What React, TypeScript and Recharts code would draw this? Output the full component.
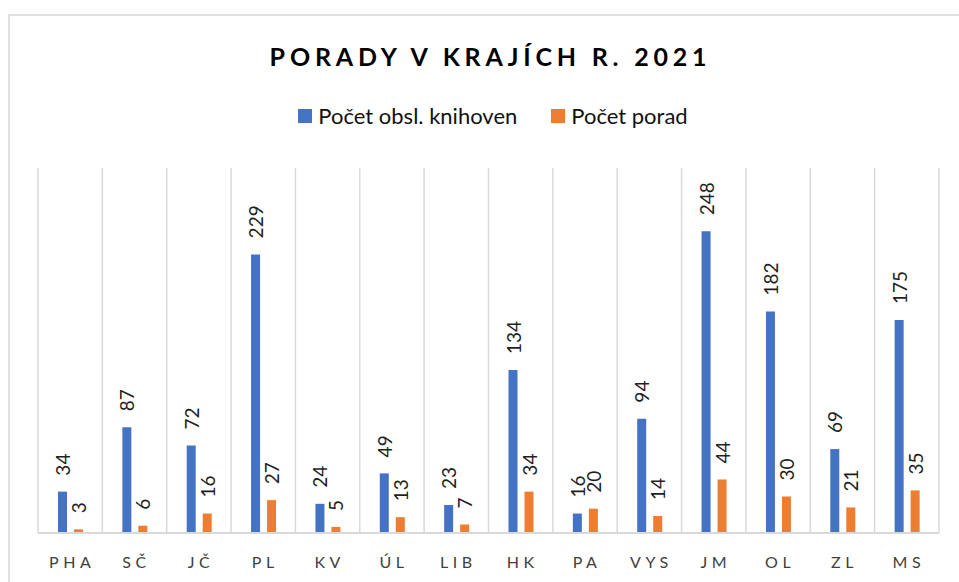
import React from "react";
import { BarChart, Bar, XAxis, YAxis, CartesianGrid, LabelList } from "recharts";

const title = "PORADY V KRAJÍCH R. 2021";
const regions = ["PHA", "SČ", "JČ", "PL", "KV", "ÚL", "LIB", "HK", "PA", "VYS", "JM", "OL", "ZL", "MS"];
const seriesNames = ["Počet obsl. knihoven", "Počet porad"];
const libraries = [34, 87, 72, 229, 24, 49, 23, 134, 16, 94, 248, 182, 69, 175];
const events = [3, 6, 16, 27, 5, 13, 7, 34, 20, 14, 44, 30, 21, 35];
const colors = ["#4472C4", "#ED7D31"];
const yDomain = [0, 300];

const data = regions.map((r, i) => ({ region: r, libraries: libraries[i], events: events[i] }));

const FONT = "Lato, 'Noto Sans', sans-serif";

const ValueLabel = (props: any) => {
  const { x, y, width, value } = props;
  const cx = x + width / 2;
  const cy = y - 16;
  return (
    <text
      transform={`translate(${cx}, ${cy}) rotate(-90)`}
      textAnchor="start"
      dominantBaseline="central"
      fontSize={19}
      fontFamily={FONT}
      fill="#1f1f1f"
    >
      {value}
    </text>
  );
};

const Tick = (props: any) => {
  const { x, y, payload } = props;
  return (
    <text
      x={x + 2}
      y={y + 35}
      textAnchor="middle"
      fontSize={16}
      fontFamily={FONT}
      fill="#404040"
      letterSpacing={4.5}
    >
      {payload.value}
    </text>
  );
};

export default function App() {
  return (
    <div style={{ position: "fixed", left: 0, top: 0, width: 959, height: 582, overflow: "hidden", background: "#fff" }}>
      <div
        style={{
          position: "absolute",
          left: 8,
          top: 14,
          width: 1000,
          height: 1000,
          border: "2px solid #e0e0e0",
        }}
      />
      <div
        style={{
          position: "absolute",
          left: 0,
          top: 41,
          width: 981,
          textAlign: "center",
          fontFamily: FONT,
          fontWeight: 700,
          fontSize: 25,
          lineHeight: "30px",
          letterSpacing: 4.8,
          color: "#000",
        }}
      >
        {title}
      </div>
      <div
        style={{
          position: "absolute",
          left: 0,
          top: 103,
          width: 986,
          display: "flex",
          justifyContent: "center",
          alignItems: "center",
          fontFamily: FONT,
          fontSize: 22,
          lineHeight: "26px",
          color: "#111",
        }}
      >
        {seriesNames.map((n, i) => (
          <div key={n} style={{ display: "flex", alignItems: "center", marginLeft: i === 0 ? 0 : 34 }}>
            <div style={{ width: 14, height: 14, background: colors[i], marginRight: 6 }} />
            <span>{n}</span>
          </div>
        ))}
      </div>
      <div style={{ position: "absolute", left: 0, top: 0 }}>
        <BarChart
          width={959}
          height={582}
          data={data}
          margin={{ top: 168, right: 20, bottom: 19, left: 38 }}
          barSize={9}
          barGap={7}
        >
          <CartesianGrid
            horizontal={false}
            stroke="#d9d9d9"
            strokeWidth={1.5}
            verticalCoordinatesGenerator={({ offset }: any) =>
              Array.from({ length: regions.length + 1 }, (_, i) => offset.left + (i * offset.width) / regions.length)
            }
          />
          <XAxis
            dataKey="region"
            height={30}
            tickLine={false}
            tickSize={0}
            tickMargin={0}
            axisLine={{ stroke: "#d9d9d9", strokeWidth: 2 }}
            tick={<Tick />}
            interval={0}
          />
          <YAxis hide domain={yDomain} />
          <Bar dataKey="libraries" name={seriesNames[0]} fill={colors[0]} isAnimationActive={false}>
            <LabelList dataKey="libraries" content={<ValueLabel />} />
          </Bar>
          <Bar dataKey="events" name={seriesNames[1]} fill={colors[1]} isAnimationActive={false}>
            <LabelList dataKey="events" content={<ValueLabel />} />
          </Bar>
        </BarChart>
      </div>
    </div>
  );
}
